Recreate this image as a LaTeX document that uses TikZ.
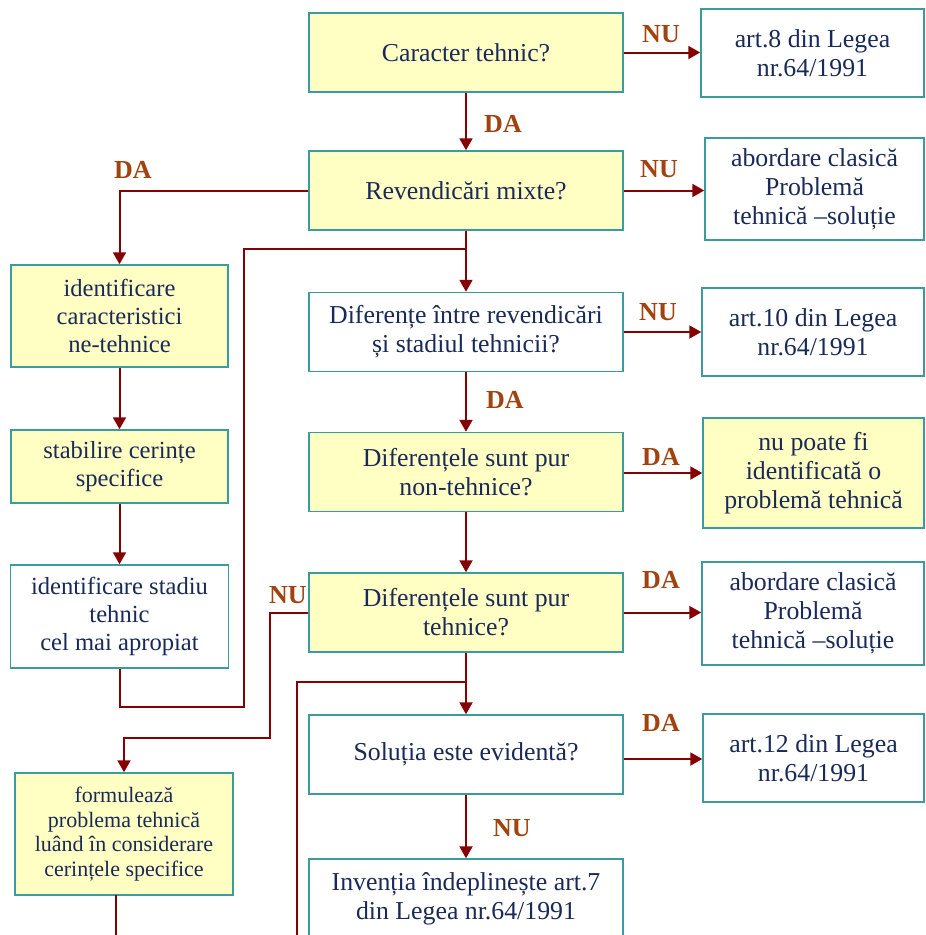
\documentclass[tikz,border=0pt]{standalone}
\usepackage{fontspec}
\setmainfont{Liberation Serif}
\usetikzlibrary{arrows.meta}
\definecolor{boxfill}{HTML}{FFFFC4}
\definecolor{boxline}{HTML}{3A9C9C}
\definecolor{arrowc}{HTML}{850000}
\definecolor{lblc}{HTML}{A0430F}
\definecolor{txtc}{HTML}{1A2A58}
\begin{document}
\begin{tikzpicture}[x=1pt,y=-1pt,
 base/.style={draw=boxline, line width=1.5pt, inner sep=0pt, align=center, text=txtc, font=\fontsize{25.8}{29}\selectfont},
 ybox/.style={base, fill=boxfill},
 wbox/.style={base, fill=white},
 lfont/.style={font=\fontsize{24.6}{28}\selectfont},
 lbl/.style={text=lblc, font=\fontsize{26}{29}\selectfont\bfseries, inner sep=0pt},
 conn/.style={draw=arrowc, line width=2pt},
 arr/.style={conn, -{Triangle[length=12pt,width=13pt]}}
]
\path[use as bounding box, clip] (0,0) rectangle (926,935);
\fill[white] (0,0) rectangle (926,935);

% main column
\node[ybox, minimum width=314pt, minimum height=79pt] (b1) at (466,52.5) {Caracter tehnic?};
\node[ybox, minimum width=314pt, minimum height=79pt] (b2) at (466,190.5) {Revendicări mixte?};
\node[wbox, minimum width=314pt, minimum height=79pt] (b3) at (466,332) {Diferențe între revendicări\\și stadiul tehnicii?};
\node[ybox, minimum width=314pt, minimum height=79pt] (b4) at (466,472) {Diferențele sunt pur\\non-tehnice?};
\node[ybox, minimum width=314pt, minimum height=79pt] (b5) at (466,612.5) {Diferențele sunt pur\\tehnice?};
\node[wbox, minimum width=314pt, minimum height=79pt] (b6) at (466,754.5) {Soluția este evidentă?};
\node[wbox, minimum width=314pt, minimum height=79pt] (b7) at (466,898.5) {Invenția îndeplinește art.7\\din Legea nr.64/1991};

% right column
\node[wbox, minimum width=223pt, minimum height=88pt] (r1) at (812.5,53) {art.8 din Legea\\nr.64/1991};
\node[wbox, minimum width=219pt, minimum height=102pt] (r2) at (814.5,189) {abordare clasică\\Problemă\\tehnică –soluție};
\node[wbox, minimum width=222pt, minimum height=88pt] (r3) at (813,332) {art.10 din Legea\\nr.64/1991};
\node[ybox, minimum width=221pt, minimum height=110pt] (r4) at (813.5,473) {nu poate fi\\identificată o\\problemă tehnică};
\node[wbox, minimum width=222pt, minimum height=103pt] (r5) at (813,613.5) {abordare clasică\\Problemă\\tehnică –soluție};
\node[wbox, minimum width=221pt, minimum height=88pt] (r6) at (813.5,758) {art.12 din Legea\\nr.64/1991};

% left column
\node[ybox, lfont, minimum width=217pt, minimum height=102pt] (l1) at (119.5,316) {identificare\\caracteristici\\ne-tehnice};
\node[ybox, lfont, minimum width=217pt, minimum height=73pt] (l2) at (119.5,466.5) {stabilire cerințe\\specifice};
\node[wbox, lfont, minimum width=218pt, minimum height=103pt] (l3) at (119.5,616.5) {identificare stadiu\\tehnic\\cel mai apropiat};
\node[ybox, minimum width=218pt, minimum height=122pt, font=\fontsize{22}{24.5}\selectfont] (l4) at (124,834) {formulează\\problema tehnică\\luând în considerare\\cerințele specifice};

% labels
\node[lbl] (nu1) at (661,34) {NU};
\node[lbl] (nu2) at (659,169) {NU};
\node[lbl] (da1) at (503,124) {DA};
\node[lbl] (da2) at (133,170) {DA};
\node[lbl] (nu3) at (658,312) {NU};
\node[lbl] (da3) at (505,400) {DA};
\node[lbl] (da4) at (661,457) {DA};
\node[lbl] (da5) at (661,580) {DA};
\node[lbl] (nu4) at (288,595) {NU};
\node[lbl] (da6) at (661,723) {DA};
\node[lbl] (nu5) at (512,828) {NU};

% coordinates for joins and free ends
\coordinate (j1) at (466,249);
\coordinate (j2) at (466,682);
\coordinate (l4out) at (116,895);
\coordinate (endA) at (116,945);
\coordinate (endB) at (297,945);

% connectors main column
\draw[arr] (b1) -- (b2);
\draw[arr] (b2) -- (b3);
\draw[arr] (b3) -- (b4);
\draw[arr] (b4) -- (b5);
\draw[arr] (b5) -- (b6);
\draw[arr] (b6) -- (b7);

% to the right
\draw[arr] (b1.east) -- (b1.east -| r1.west);
\draw[arr] (b2.east) -- (b2.east -| r2.west);
\draw[arr] (b3.east) -- (b3.east -| r3.west);
\draw[arr] (b4.east |- r4.west) -- (r4.west);
\draw[arr] (b5.east) -- (b5.east -| r5.west);
\draw[arr] (b6.east |- 0,759) -- (r6.west |- 0,759);

% left column
\draw[arr] (b2.west) -| (l1.north);
\draw[arr] (l1) -- (l2);
\draw[arr] (l2) -- (l3);
\draw[conn] (l3.south) |- (244,707) |- (j1);
\draw[arr] (b5.west) -| (270,738) -| (l4.north);
\draw[conn] (l4out) -- (endA);
\draw[conn] (endB) |- (j2);
\end{tikzpicture}
\end{document}
